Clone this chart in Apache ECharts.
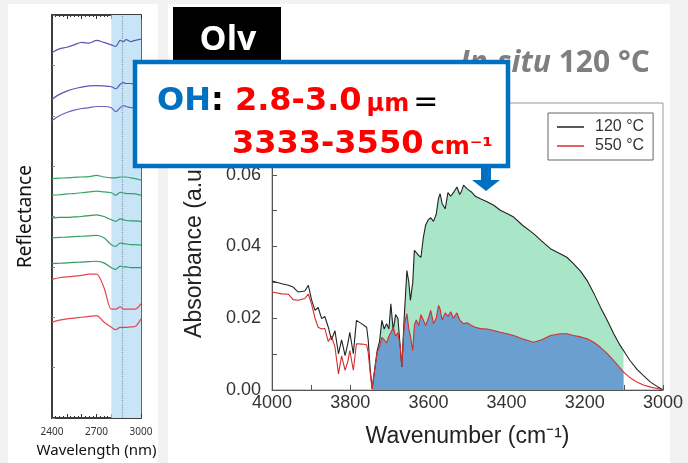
<!DOCTYPE html>
<html>
<head>
<meta charset="utf-8">
<script src="https://cdn.jsdelivr.net/npm/echarts@6/dist/echarts.min.js"></script>
<style>
html, body { margin: 0; padding: 0; background: #f2f2f2; }
#chart { width: 688px; height: 463px; }
</style>
</head>
<body>
<div id="chart"></div>
<script>
// --- painel esquerdo: reflectância (unidades arbitrárias, curvas deslocadas) ---
const wlGrid = [2400, 2450, 2500, 2550, 2600, 2650, 2700, 2750, 2800, 2830, 2860, 2880, 2900, 2930, 2960, 3000];
const wlLabels = [2400, 2700, 3000];
const purpleA = [90.7, 91.6, 92.0, 92.6, 93.2, 93.0, 93.7, 93.2, 92.6, 92.2, 93.7, 93.4, 93.9, 93.4, 93.7, 94.0];
const purpleB = [79.1, 80.3, 81.1, 81.7, 82.1, 82.4, 82.5, 82.4, 82.2, 81.7, 82.8, 83.2, 83.0, 83.0, 82.8, 82.8];
const purpleC = [73.8, 75.0, 75.8, 76.4, 76.8, 77.0, 77.3, 77.3, 77.0, 76.0, 77.0, 77.5, 77.3, 77.0, 77.0, 77.0];
const greenA = [59.4, 59.5, 59.6, 59.7, 59.8, 59.9, 60.2, 59.8, 59.6, 59.6, 59.8, 59.8, 59.8, 59.6, 59.4, 59.0];
const greenB = [55.3, 55.4, 55.6, 55.7, 55.9, 56.1, 56.3, 56.1, 55.9, 55.3, 56.0, 55.9, 55.7, 55.7, 55.6, 55.3];
const greenC = [49.6, 49.8, 49.8, 49.9, 50.0, 50.2, 50.4, 50.0, 49.2, 48.8, 49.4, 49.2, 49.0, 48.9, 48.9, 48.8];
const greenD = [44.7, 44.8, 44.9, 45.0, 45.1, 45.2, 45.3, 44.7, 43.0, 42.6, 43.4, 43.3, 43.2, 43.0, 43.0, 42.9];
const greenE = [38.3, 38.4, 38.5, 38.6, 38.7, 38.8, 38.9, 38.5, 37.3, 36.9, 37.7, 37.5, 37.5, 37.3, 37.3, 37.3];
const redA = [34.4, 34.8, 35.0, 35.2, 35.4, 35.7, 35.7, 32.4, 27.0, 27.0, 27.6, 27.0, 27.0, 27.0, 27.0, 28.4];
const redB = [23.8, 24.3, 24.6, 24.8, 25.0, 25.2, 25.4, 23.8, 22.5, 21.9, 22.5, 22.5, 22.5, 22.6, 22.7, 24.6];
const ohBand = [2800, 3000];
const ohLine = 2875;

// --- painel principal: absorbância in-situ ---
const wn = [4000, 3975, 3958, 3946, 3933, 3916, 3907, 3899, 3890, 3882,
  3873, 3865, 3856, 3848, 3839, 3830, 3822, 3813, 3806, 3801,
  3792, 3784, 3771, 3758, 3754, 3749, 3744, 3737, 3731, 3725,
  3719, 3713, 3707, 3701, 3696, 3690, 3684, 3678, 3672, 3668,
  3662, 3655, 3650, 3646, 3640, 3636, 3631, 3625, 3619, 3613,
  3607, 3600, 3594, 3587, 3580, 3574, 3570, 3565, 3557, 3550,
  3543, 3536, 3527, 3520, 3515, 3510, 3500, 3490, 3480, 3467,
  3450, 3433, 3416, 3399, 3382, 3360, 3331, 3310, 3288, 3263,
  3246, 3229, 3210, 3194, 3177, 3160, 3143, 3126, 3110, 3101,
  3085, 3067, 3050, 3032, 3015, 3000];
const abs120 = [0.0304, 0.0296, 0.0292, 0.0287, 0.0273, 0.0276, 0.0292, 0.0252, 0.0222, 0.0230,
  0.0199, 0.0205, 0.0175, 0.0140, 0.0165, 0.0101, 0.0140, 0.0096, 0.0130, 0.0161,
  0.0101, 0.0194, 0.0185, 0.0175, 0.0140, 0.0060, 0.0003, 0.0060, 0.0110, 0.0135,
  0.0194, 0.0170, 0.0185, 0.0170, 0.0240, 0.0166, 0.0210, 0.0200, 0.0120, 0.0064,
  0.0200, 0.0333, 0.0300, 0.0250, 0.0300, 0.0389, 0.0385, 0.0375, 0.0370, 0.0425,
  0.0460, 0.0475, 0.0480, 0.0470, 0.0490, 0.0535, 0.0547, 0.0520, 0.0505, 0.0550,
  0.0540, 0.0550, 0.0566, 0.0545, 0.0555, 0.0571, 0.0560, 0.0552, 0.0540, 0.0533,
  0.0525, 0.0515, 0.0501, 0.0492, 0.0482, 0.0460, 0.0436, 0.0415, 0.0394, 0.0380,
  0.0370, 0.0352, 0.0330, 0.0305, 0.0270, 0.0231, 0.0195, 0.0157, 0.0125, 0.0110,
  0.0083, 0.0058, 0.0040, 0.0022, 0.0010, 0.0000];
const abs550 = [0.0273, 0.0268, 0.0267, 0.0252, 0.0250, 0.0255, 0.0267, 0.0240, 0.0200, 0.0175,
  0.0170, 0.0172, 0.0135, 0.0150, 0.0120, 0.0045, 0.0095, 0.0055, 0.0080, 0.0110,
  0.0055, 0.0129, 0.0128, 0.0126, 0.0105, 0.0050, 0.0003, 0.0060, 0.0105, 0.0120,
  0.0147, 0.0140, 0.0131, 0.0150, 0.0160, 0.0175, 0.0150, 0.0160, 0.0120, 0.0064,
  0.0180, 0.0213, 0.0170, 0.0150, 0.0110, 0.0180, 0.0195, 0.0180, 0.0210, 0.0195,
  0.0180, 0.0200, 0.0222, 0.0185, 0.0200, 0.0236, 0.0225, 0.0195, 0.0215, 0.0205,
  0.0218, 0.0200, 0.0215, 0.0195, 0.0192, 0.0185, 0.0187, 0.0180, 0.0175, 0.0171,
  0.0170, 0.0166, 0.0161, 0.0157, 0.0152, 0.0143, 0.0133, 0.0140, 0.0152, 0.0157,
  0.0157, 0.0152, 0.0148, 0.0143, 0.0133, 0.0119, 0.0102, 0.0082, 0.0062, 0.0050,
  0.0035, 0.0022, 0.0014, 0.0008, 0.0004, 0.0000];
const fillFrom = 3744;
const fillTo = 3101;

const chart = echarts.init(document.getElementById('chart'));

const par = (xs, ys) => xs.map((x, i) => [x, ys[i]]);
const naFaixa = p => p[0] <= fillFrom && p[0] >= fillTo;

const espectros = [
  [purpleA, '#5b56b4'], [purpleB, '#5b56b4'], [purpleC, '#6a62bd'],
  [greenA, '#35a468'], [greenB, '#35a468'], [greenC, '#2f9a5c'], [greenD, '#35a468'], [greenE, '#2f9a5c'],
  [redA, '#e2474d'], [redB, '#e2474d']
];

const seriesEsq = espectros.map(([ys, cor]) => ({
  type: 'line',
  xAxisIndex: 0,
  yAxisIndex: 0,
  data: par(wlGrid, ys),
  symbol: 'none',
  smooth: 0.3,
  lineStyle: { color: cor, width: 1.2 },
  z: 3
}));
// faixa OH e linha pontilhada
seriesEsq[0].markArea = {
  silent: true,
  itemStyle: { color: '#c8e5f8' },
  data: [[{ xAxis: ohBand[0] }, { xAxis: ohBand[1] }]]
};
seriesEsq[0].markLine = {
  silent: true,
  symbol: 'none',
  label: { show: false },
  lineStyle: { color: '#7f9bb3', type: 'dotted', width: 1.2 },
  data: [{ xAxis: ohLine }]
};

const fonteEixo = 'Liberation Sans, Arial, sans-serif';

const option = {
  animation: false,
  backgroundColor: '#f2f2f2',
  legend: {
    data: ['120 °C', '550 °C'],
    left: 548,
    top: 113,
    orient: 'vertical',
    icon: 'rect',
    padding: [6, 9, 6, 9],
    itemGap: 3,
    itemWidth: 27,
    itemHeight: 1.5,
    borderColor: '#666',
    borderWidth: 1,
    textStyle: { fontFamily: fonteEixo, fontSize: 16, lineHeight: 16, color: '#333', padding: [0, 0, 0, 6] }
  },
  grid: [
    { left: 52, top: 15, width: 89, height: 407, show: true, borderColor: '#333', borderWidth: 1.5 },
    { left: 272, top: 103, width: 391, height: 287, show: true, borderColor: '#999', borderWidth: 1 }
  ],
  xAxis: [
    {
      gridIndex: 0, type: 'value', min: 2400, max: 3000, interval: 100,
      axisLine: { lineStyle: { color: '#333', width: 1.5 } },
      axisTick: { inside: true, length: 4, lineStyle: { color: '#333' } },
      minorTick: { show: true, splitNumber: 4, length: 2, lineStyle: { color: '#333' } },
      splitLine: { show: false },
      axisLabel: {
        formatter: v => wlLabels.includes(v) ? String(v) : '',
        fontSize: 10, color: '#333', margin: 9, fontFamily: 'Noto Sans'
      },
      name: 'Wavelength (nm)', nameLocation: 'middle', nameGap: 25,
      nameTextStyle: { fontSize: 15, color: '#111', fontFamily: 'Noto Sans' }
    },
    {
      gridIndex: 0, type: 'value', min: 2400, max: 3000, interval: 100, position: 'top',
      axisLine: { lineStyle: { color: '#333', width: 1.5 } },
      axisTick: { inside: true, length: 4, lineStyle: { color: '#333' } },
      minorTick: { show: true, splitNumber: 4, length: 2, lineStyle: { color: '#333' } },
      splitLine: { show: false },
      axisLabel: { show: false }
    },
    {
      gridIndex: 1, type: 'value', min: 3000, max: 4000, interval: 200, inverse: true,
      axisLine: { lineStyle: { color: '#555' } },
      axisTick: { inside: true, length: 5, lineStyle: { color: '#555' } },
      minorTick: { show: true, splitNumber: 2, length: 5, lineStyle: { color: '#555' } },
      splitLine: { show: false },
      axisLabel: { formatter: v => String(v), fontSize: 18, color: '#333', margin: 4, fontFamily: fonteEixo },
      name: 'Wavenumber (cm⁻¹)', nameLocation: 'middle', nameGap: 35,
      nameTextStyle: { fontSize: 23, color: '#222', fontFamily: fonteEixo }
    }
  ],
  yAxis: [
    {
      gridIndex: 0, type: 'value', min: 0, max: 100, interval: 12.5,
      axisLine: { lineStyle: { color: '#333', width: 1.5 } },
      axisTick: { inside: true, length: 3, lineStyle: { color: '#888' } },
      splitLine: { show: false },
      axisLabel: { show: false },
      name: 'Reflectance', nameLocation: 'middle', nameGap: 17,
      nameTextStyle: { fontSize: 19, color: '#111', fontFamily: 'Noto Sans' }
    },
    {
      gridIndex: 1, type: 'value', min: 0, max: 0.08, interval: 0.02,
      axisLine: { lineStyle: { color: '#555' } },
      axisTick: { inside: true, length: 5, lineStyle: { color: '#555' } },
      minorTick: { show: true, splitNumber: 2, length: 5, lineStyle: { color: '#555' } },
      splitLine: { show: false },
      axisLabel: { formatter: v => v.toFixed(2), fontSize: 18, color: '#333', margin: 11, fontFamily: fonteEixo },
      name: 'Absorbance (a.u.)', nameLocation: 'middle', nameGap: 66,
      nameTextStyle: { fontSize: 23, color: '#222', fontFamily: fonteEixo }
    }
  ],
  series: [
    ...seriesEsq,
    {
      name: 'area120', type: 'line', xAxisIndex: 2, yAxisIndex: 1,
      data: par(wn, abs120).filter(naFaixa), symbol: 'none',
      lineStyle: { width: 0 }, areaStyle: { color: '#a9e5c7', opacity: 1 }, z: 2
    },
    {
      name: 'area550', type: 'line', xAxisIndex: 2, yAxisIndex: 1,
      data: par(wn, abs550).filter(naFaixa), symbol: 'none',
      lineStyle: { width: 0 }, areaStyle: { color: '#6a9fd0', opacity: 1 }, z: 3
    },
    {
      name: '120 °C', type: 'line', xAxisIndex: 2, yAxisIndex: 1,
      data: par(wn, abs120), symbol: 'none',
      lineStyle: { color: '#222', width: 1.1 }, itemStyle: { color: '#222' }, z: 4
    },
    {
      name: '550 °C', type: 'line', xAxisIndex: 2, yAxisIndex: 1,
      data: par(wn, abs550), symbol: 'none',
      lineStyle: { color: '#d32f2f', width: 1.1 }, itemStyle: { color: '#d32f2f' }, z: 4
    }
  ],
  graphic: [
    // paineis brancos
    { type: 'rect', z: -10, shape: { x: 8, y: 4, width: 150, height: 463 }, style: { fill: '#fff' } },
    { type: 'rect', z: -10, shape: { x: 168, y: 4, width: 502, height: 463 }, style: { fill: '#fff' } },
    // etiqueta Olv
    { type: 'rect', z: 50, shape: { x: 173, y: 7, width: 108, height: 56 }, style: { fill: '#000' } },
    {
      type: 'text', z: 51, x: 228, y: 40,
      style: { text: 'Olv', fill: '#fff', font: 'bold 34px "Open Sans", sans-serif', align: 'center', verticalAlign: 'middle' }
    },
    {
      type: 'text', z: 50, x: 460, y: 78,
      style: {
        text: '{i|In-situ}{n| 120 °C}', verticalAlign: 'bottom',
        rich: {
          i: { fill: '#7f7f7f', font: 'italic bold 30px "Open Sans", sans-serif', verticalAlign: 'bottom' },
          n: { fill: '#7f7f7f', font: 'bold 30px "Open Sans", sans-serif', verticalAlign: 'bottom' }
        }
      }
    },
    // caixa OH
    {
      type: 'rect', z: 100, shape: { x: 135, y: 62, width: 373, height: 104 },
      style: { fill: '#fff', stroke: '#0070C0', lineWidth: 4.5 }
    },
    {
      type: 'text', z: 101, x: 157, y: 118,
      style: {
        text: '{b|OH}{k|: }{r|2.8-3.0}{u|μm}{e|=}', verticalAlign: 'bottom',
        rich: {
          b: { fill: '#0070C0', font: 'bold 32px "DejaVu Sans"', verticalAlign: 'bottom' },
          k: { fill: '#000', font: 'bold 32px "DejaVu Sans"', verticalAlign: 'bottom' },
          r: { fill: '#ff0000', font: 'bold 32px "DejaVu Sans"', verticalAlign: 'bottom' },
          u: { fill: '#ff0000', font: 'bold 24px "DejaVu Sans"', verticalAlign: 'bottom', padding: [0, 4, 1, 5] },
          e: { fill: '#000', font: '30px "DejaVu Sans"', verticalAlign: 'bottom' }
        }
      }
    },
    {
      type: 'text', z: 101, x: 232, y: 161,
      style: {
        text: '{r|3333-3550}{u|cm⁻¹}', verticalAlign: 'bottom',
        rich: {
          r: { fill: '#ff0000', font: 'bold 32px "DejaVu Sans"', verticalAlign: 'bottom' },
          u: { fill: '#ff0000', font: 'bold 24px "DejaVu Sans"', verticalAlign: 'bottom', padding: [0, 0, 1, 7] }
        }
      }
    },
    // seta
    {
      type: 'polygon', z: 100,
      shape: { points: [[481, 166], [491, 166], [491, 180], [500, 180], [486, 191], [472, 180], [481, 180]] },
      style: { fill: '#0070C0' }
    }
  ]
};

chart.setOption(option);
</script>
</body>
</html>
